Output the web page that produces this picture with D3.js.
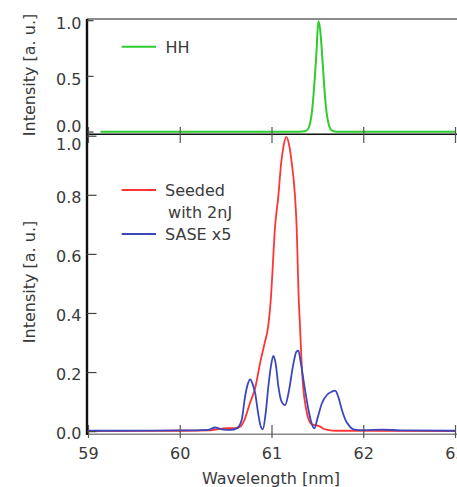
<!DOCTYPE html>
<html><head><meta charset="utf-8">
<script src="https://cdn.jsdelivr.net/npm/d3@7"></script>
<style>html,body{margin:0;padding:0;background:#fff;overflow:hidden}</style>
</head><body>
<svg id="c" width="457" height="487"></svg>
<script>
// ---- data ----
const xTicks = [59, 60, 61, 62, 63];
const yTicksTop = [0.0, 0.5, 1.0];
const yTicksBottom = [0.0, 0.2, 0.4, 0.6, 0.8, 1.0];

const hhWl = [59.13, 60.0, 61.0, 61.30, 61.36, 61.385, 61.405, 61.425, 61.445, 61.465, 61.485, 61.505, 61.525, 61.545, 61.565, 61.585, 61.605, 61.625, 61.65, 61.70, 62.0, 63.0];
const hhInt = [0.003, 0.003, 0.003, 0.004, 0.008, 0.02, 0.05, 0.12, 0.26, 0.47, 0.72, 0.995, 0.92, 0.71, 0.46, 0.25, 0.12, 0.05, 0.015, 0.004, 0.003, 0.003];

const seededWl = [59.0, 60.0, 60.3, 60.4, 60.5, 60.6, 60.65, 60.7, 60.76, 60.82, 60.87, 60.92, 60.96, 60.99, 61.01, 61.03, 61.07, 61.10, 61.125, 61.155, 61.19, 61.215, 61.25, 61.27, 61.28, 61.29, 61.305, 61.32, 61.34, 61.37, 61.40, 61.43, 61.47, 61.52, 61.56, 61.62, 61.70, 63.0];
const seededInt = [0.002, 0.003, 0.004, 0.008, 0.012, 0.012, 0.016, 0.04, 0.097, 0.152, 0.232, 0.30, 0.36, 0.46, 0.57, 0.68, 0.80, 0.91, 0.965, 0.998, 0.965, 0.91, 0.80, 0.68, 0.57, 0.46, 0.36, 0.25, 0.15, 0.08, 0.04, 0.025, 0.022, 0.018, 0.01, 0.005, 0.003, 0.002];

const saseWl = [59.0, 60.0, 60.3, 60.38, 60.45, 60.55, 60.62, 60.67, 60.706, 60.735, 60.761, 60.79, 60.816, 60.85, 60.88, 60.90, 60.93, 60.96, 60.99, 61.015, 61.04, 61.07, 61.10, 61.143, 61.18, 61.234, 61.265, 61.288, 61.31, 61.36, 61.40, 61.43, 61.46, 61.50, 61.544, 61.598, 61.65, 61.689, 61.72, 61.762, 61.80, 61.834, 61.889, 62.0, 62.2, 62.4, 63.0];
const saseInt = [0.003, 0.004, 0.006, 0.014, 0.008, 0.006, 0.012, 0.04, 0.118, 0.16, 0.177, 0.16, 0.131, 0.06, 0.015, 0.008, 0.06, 0.152, 0.225, 0.256, 0.23, 0.152, 0.105, 0.09, 0.131, 0.231, 0.27, 0.274, 0.24, 0.141, 0.07, 0.03, 0.011, 0.05, 0.096, 0.124, 0.135, 0.139, 0.12, 0.073, 0.04, 0.023, 0.008, 0.005, 0.007, 0.004, 0.003];

const legendTop = ["HH"];
const legendBottom = ["Seeded", " with 2nJ", "SASE x5"];
const yTitle = "Intensity [a. u.]";
const xTitle = "Wavelength [nm]";

// ---- drawing ----
const svg = d3.select("#c");
const font = "'DejaVu Sans', Verdana, sans-serif";
const textCol = "#3a3a3a";
const cGreen = "#2fcc2f", cRed = "#ff3434", cBlue = "#3b47bd";

const x = d3.scaleLinear().domain([59, 63]).range([88.5, 455.5]);
const yT = d3.scaleLinear().domain([-0.02, 1.015]).range([134.3, 19]);
const yB = d3.scaleLinear().domain([-0.009, 1.0065]).range([434.3, 134.3]);

const line = (ys) => d3.line().x(d => x(d[0])).y(d => ys(d[1])).curve(d3.curveMonotoneX);
const zip = (a, b) => a.map((v, i) => [v, b[i]]);

// frame lines
svg.append("line").attr("x1", 87).attr("x2", 457).attr("y1", 19).attr("y2", 19).attr("stroke", "#666").attr("stroke-width", 1.3);
svg.append("line").attr("x1", 87).attr("x2", 457).attr("y1", 434.3).attr("y2", 434.3).attr("stroke", "#888").attr("stroke-width", 1.5);

// data
svg.append("path").datum(zip(hhWl, hhInt)).attr("d", line(yT)).attr("fill", "none").attr("stroke", cGreen).attr("stroke-width", 2);
svg.append("path").datum(zip(seededWl, seededInt)).attr("d", line(yB)).attr("fill", "none").attr("stroke", cRed).attr("stroke-width", 1.8);
svg.append("path").datum(zip(saseWl, saseInt)).attr("d", line(yB)).attr("fill", "none").attr("stroke", cBlue).attr("stroke-width", 1.8);

// middle separating line
svg.append("line").attr("x1", 87).attr("x2", 457).attr("y1", 134.3).attr("y2", 134.3).attr("stroke", "#111").attr("stroke-width", 1.6);
// left axis line
svg.append("line").attr("x1", 87).attr("x2", 87).attr("y1", 19).attr("y2", 435).attr("stroke", "#111").attr("stroke-width", 2.4);

// x ticks on middle line and bottom line
xTicks.forEach(t => {
  svg.append("line").attr("x1", x(t)).attr("x2", x(t)).attr("y1", 127).attr("y2", 143).attr("stroke", "#555").attr("stroke-width", 1.2);
  svg.append("line").attr("x1", x(t)).attr("x2", x(t)).attr("y1", 425).attr("y2", 438).attr("stroke", "#555").attr("stroke-width", 1.2);
});
// x tick labels
svg.append("g").selectAll("text").data(xTicks).join("text")
  .attr("x", d => x(d)).attr("y", 459).attr("text-anchor", "middle")
  .attr("font-family", font).attr("font-size", 16).attr("fill", textCol).text(d => d);

// y ticks top
yTicksTop.forEach(t => {
  svg.append("line").attr("x1", 87).attr("x2", 93.5).attr("y1", yT(t)).attr("y2", yT(t)).attr("stroke", "#444").attr("stroke-width", 1.2);
});
svg.append("g").selectAll("text").data(yTicksTop).join("text")
  .attr("x", 81.5).attr("y", d => yT(d) + (d === 0 ? -6 : 2.5) + 6)
  .attr("text-anchor", "end").attr("font-family", font).attr("font-size", 16).attr("fill", textCol)
  .text(d => d.toFixed(1));

// y ticks bottom
yTicksBottom.forEach(t => {
  svg.append("line").attr("x1", 87).attr("x2", 96.5).attr("y1", yB(t)).attr("y2", yB(t)).attr("stroke", "#444").attr("stroke-width", 1.2);
});
svg.append("g").selectAll("text").data(yTicksBottom).join("text")
  .attr("x", 81.5).attr("y", d => yB(d) + (d === 1 ? 8 : 1.8) + 6)
  .attr("text-anchor", "end").attr("font-family", font).attr("font-size", 16).attr("fill", textCol)
  .text(d => d.toFixed(1));

// axis titles
svg.append("text").attr("transform", "translate(34.5,75) rotate(-90)").attr("text-anchor", "middle")
  .attr("font-family", font).attr("font-size", 16).attr("fill", textCol).text(yTitle);
svg.append("text").attr("transform", "translate(34.5,282) rotate(-90)").attr("text-anchor", "middle")
  .attr("font-family", font).attr("font-size", 16).attr("fill", textCol).text(yTitle);
svg.append("text").attr("x", 271).attr("y", 484).attr("text-anchor", "middle")
  .attr("font-family", font).attr("font-size", 16).attr("fill", textCol).text(xTitle);

// legends
const legLine = (yy, col) => svg.append("line").attr("x1", 121.7).attr("x2", 156).attr("y1", yy).attr("y2", yy).attr("stroke", col).attr("stroke-width", 2);
const legText = (xx, yy, s) => svg.append("text").attr("x", xx).attr("y", yy + 6).attr("font-family", font).attr("font-size", 16).attr("fill", textCol).attr("xml:space", "preserve").style("white-space", "pre").text(s);
legLine(46.7, cGreen); legText(165.5, 46.7, legendTop[0]);
legLine(190, cRed); legText(165, 190, legendBottom[0]);
legText(163, 211.7, legendBottom[1]);
legLine(234, cBlue); legText(165, 234, legendBottom[2]);
</script>
</body></html>
